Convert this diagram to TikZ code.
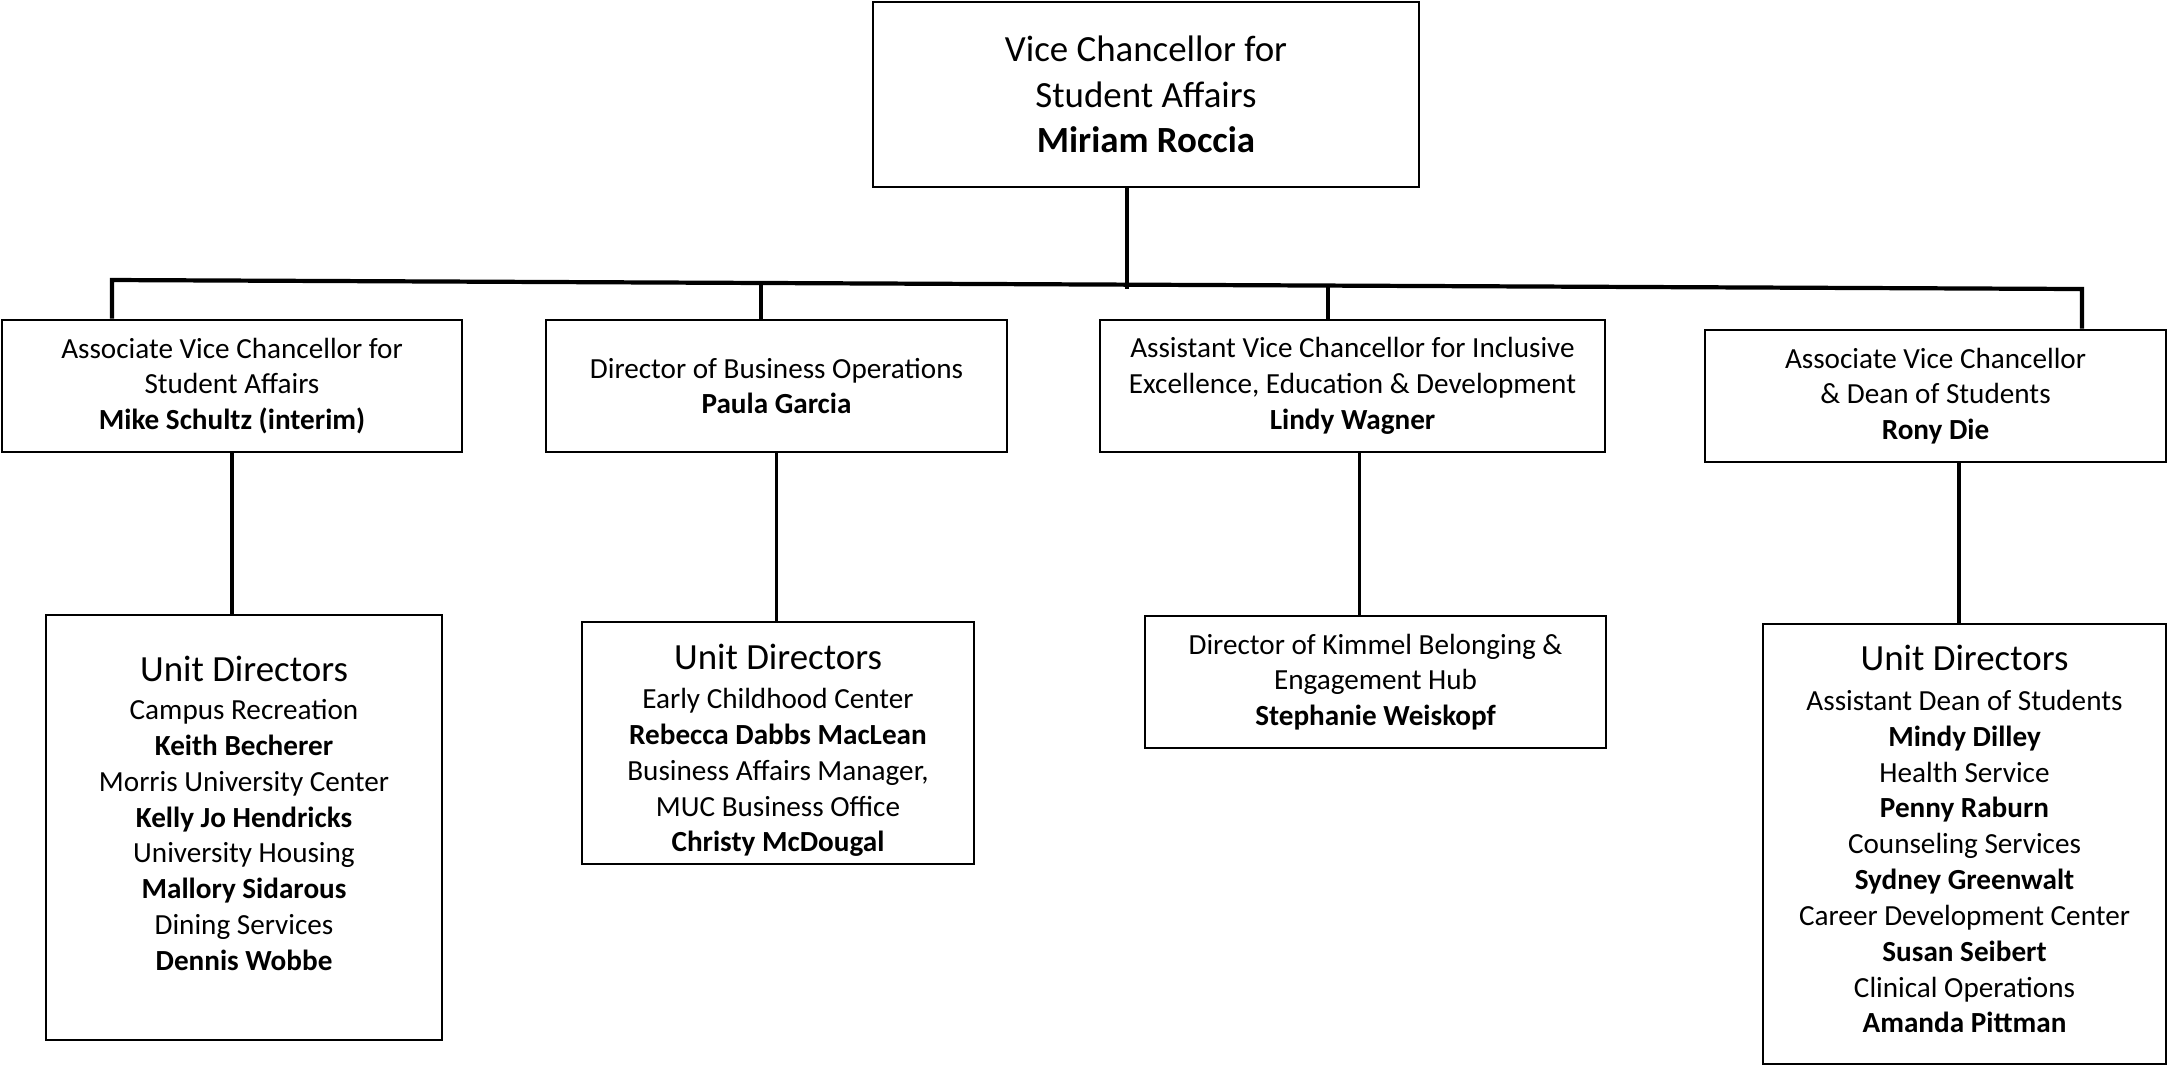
\documentclass[tikz,border=0pt]{standalone}
\usepackage{fontspec}
\setmainfont{Carlito}
\newcommand{\headfont}{\fontsize{10.5}{13}\selectfont}
\begin{document}
\begin{tikzpicture}[x=0.1mm,y=-0.1mm,line width=1.1pt,
  every node/.style={draw,rectangle,align=center,line width=0.8pt,inner sep=0pt,font=\fontsize{8.3}{10.2}\selectfont},
  midbox/.style={minimum width=46.1mm,minimum height=13.2mm}]
\useasboundingbox (0,0) rectangle (2170,1066);
% top
\node[font=\headfont,minimum width=54.6mm,minimum height=18.5mm] (vc) at (1146,94.5) {Vice Chancellor for\\ Student Affairs\\ \textbf{Miriam Roccia}};
% second row
\node[midbox,minimum width=46mm] (assoc) at (232,386) {Associate Vice Chancellor for\\ Student Affairs\\ \textbf{Mike Schultz (interim)}};
\node[midbox] (bizops) at (776.5,386) {Director of Business Operations\\ \textbf{Paula Garcia}};
\node[midbox,minimum width=50.5mm] (incl) at (1352.5,386) {Assistant Vice Chancellor for Inclusive\\ Excellence, Education \& Development\\ \textbf{Lindy Wagner}};
\node[midbox] (dean) at (1935.5,396) {Associate Vice Chancellor\\ \& Dean of Students\\ \textbf{Rony Die}};
% third row
\node[minimum width=39.6mm,minimum height=42.5mm] (units1) at (244,827.5) {\parbox[c][34.2mm][t]{38mm}{\centering {\headfont Unit Directors}\\[0.5pt]
  Campus Recreation\\ \textbf{Keith Becherer}\\ Morris University Center\\ \textbf{Kelly Jo Hendricks}\\
  University Housing\\ \textbf{Mallory Sidarous}\\ Dining Services\\ \textbf{Dennis Wobbe}}};
\node[minimum width=39.2mm,minimum height=24.2mm] (units2) at (778,743) {{\headfont Unit Directors}\\[1pt]
  Early Childhood Center\\ \textbf{Rebecca Dabbs MacLean}\\ Business Affairs Manager,\\ MUC Business Office\\ \textbf{Christy McDougal}\\[-12.9pt]};
\node[midbox] (kimmel) at (1375.5,682) {Director of Kimmel Belonging \&\\ Engagement Hub\\ \textbf{Stephanie Weiskopf}};
\node[minimum width=40.3mm,minimum height=44mm] (units3) at (1964.5,844) {{\headfont Unit Directors}\\[1pt]
  Assistant Dean of Students\\ \textbf{Mindy Dilley}\\ Health Service\\ \textbf{Penny Raburn}\\
  Counseling Services\\ \textbf{Sydney Greenwalt}\\ Career Development Center\\ \textbf{Susan Seibert}\\
  Clinical Operations\\ \textbf{Amanda Pittman}\\[-7.5pt]};
% bus
\coordinate (busL) at (112,280);
\coordinate (busR) at (2082,289);
\coordinate (vcdrop) at (1127,289);
\coordinate (bus2) at (761,283);
\coordinate (bus3) at (1328,287);
\draw (vc.south -| vcdrop) -- (vcdrop);
\draw[line width=1.2pt] (assoc.north -| busL) -- (busL) -- (busR) -- (dean.north -| busR);
\draw (bus2) -- (bizops.north -| bus2);
\draw (bus3) -- (incl.north -| bus3);
% down to units
\draw (assoc.south) -- (assoc.south |- units1.north);
\draw (bizops.south) -- (bizops.south |- units2.north);
\draw ([xshift=0.7mm]incl.south) -- ([xshift=0.7mm]incl.south |- kimmel.north);
\draw ([xshift=-0.55mm]units3.north |- dean.south) -- ([xshift=-0.55mm]units3.north);
\end{tikzpicture}
\end{document}
